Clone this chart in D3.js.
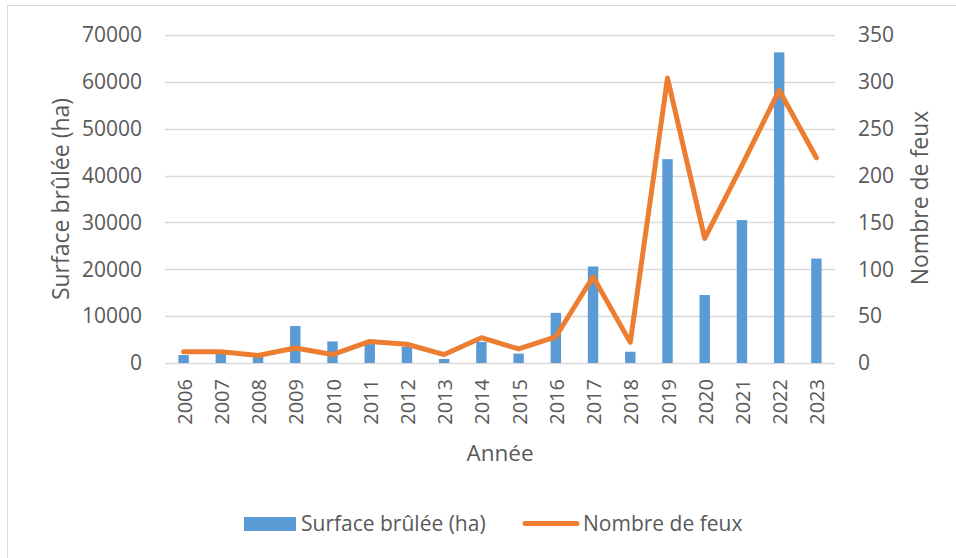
<!DOCTYPE html>
<html>
<head>
<meta charset="utf-8">
<script src="https://cdn.jsdelivr.net/npm/d3@7"></script>
<style>
  body { margin: 0; background: #fff; }
  svg text { font-family: "Open Sans", sans-serif; fill: #595959; }
</style>
</head>
<body>
<svg id="chart" width="956" height="558"></svg>
<script>
// data
const years = ["2006","2007","2008","2009","2010","2011","2012","2013","2014",
               "2015","2016","2017","2018","2019","2020","2021","2022","2023"];
const surface = [1700, 2300, 1500, 7900, 4600, 4200, 3500, 850, 4500,
                 2000, 10700, 20600, 2400, 43500, 14500, 30500, 66300, 22300];
const fires = [12, 12, 8, 16, 9, 23, 20, 9, 27, 15, 28, 92, 22, 304, 133, 211, 291, 219];
const leftTicks = [0, 10000, 20000, 30000, 40000, 50000, 60000, 70000];
const rightTicks = [0, 50, 100, 150, 200, 250, 300, 350];

const blue = "#5B9BD5", orange = "#ED7D31", grid = "#D9D9D9";
const plotL = 165, plotR = 835, plotT = 35, plotB = 363;

const svg = d3.select("#chart");

// outer frame (runs past the right/bottom edge like the screenshot)
svg.append("rect")
  .attr("x", 7.5).attr("y", 5.5)
  .attr("width", 980).attr("height", 600)
  .attr("fill", "none").attr("stroke", grid);

const x = d3.scaleBand().domain(years).range([plotL, plotR]).padding(0);
const yL = d3.scaleLinear().domain([0, 70000]).range([plotB, plotT]);
const yR = d3.scaleLinear().domain([0, 350]).range([plotB, plotT]);

// gridlines
svg.append("g").selectAll("line").data(leftTicks).join("line")
  .attr("x1", plotL).attr("x2", plotR)
  .attr("y1", d => Math.round(yL(d)) + 0.5).attr("y2", d => Math.round(yL(d)) + 0.5)
  .attr("stroke", grid).attr("stroke-width", 1.3);

// left axis labels
const axL = svg.append("g").attr("transform", `translate(${plotL - 23},0)`)
  .call(d3.axisLeft(yL).tickValues(leftTicks).tickSize(0).tickPadding(0).tickFormat(d3.format("d")));
axL.select(".domain").remove();
axL.selectAll("text").attr("font-size", 21).attr("font-family", null).attr("fill", null);

// right axis labels
const axR = svg.append("g").attr("transform", `translate(${plotR + 23},0)`)
  .call(d3.axisRight(yR).tickValues(rightTicks).tickSize(0).tickPadding(0));
axR.select(".domain").remove();
axR.selectAll("text").attr("font-size", 21).attr("font-family", null).attr("fill", null);

// bars
const bw = x.bandwidth() * 0.28;
svg.append("g").selectAll("rect").data(surface).join("rect")
  .attr("x", (d, i) => x(years[i]) + x.bandwidth() / 2 - bw / 2)
  .attr("width", bw)
  .attr("y", d => yL(d))
  .attr("height", d => plotB - yL(d))
  .attr("fill", blue);

// line
const line = d3.line()
  .x((d, i) => x(years[i]) + x.bandwidth() / 2)
  .y(d => yR(d));
svg.append("path").datum(fires)
  .attr("d", line)
  .attr("fill", "none").attr("stroke", orange)
  .attr("stroke-width", 5).attr("stroke-linejoin", "round").attr("stroke-linecap", "round");

// x axis labels, rotated
const axB = svg.append("g").attr("transform", `translate(0,${plotB})`)
  .call(d3.axisBottom(x).tickSize(0).tickPadding(0));
axB.select(".domain").remove();
axB.selectAll("text")
  .attr("font-size", 20).attr("font-family", null).attr("fill", null)
  .attr("text-anchor", "end")
  .attr("transform", "translate(1,16) rotate(-90)")
  .attr("x", 0).attr("y", 0).attr("dy", "0.35em");

// axis titles
svg.append("text").attr("font-size", 23).attr("text-anchor", "middle")
  .attr("transform", "translate(69,199) rotate(-90)")
  .text("Surface brûlée (ha)");
svg.append("text").attr("font-size", 23).attr("text-anchor", "middle")
  .attr("transform", "translate(928,198) rotate(-90)")
  .text("Nombre de feux");
svg.append("text").attr("font-size", 22.5).attr("text-anchor", "middle")
  .attr("x", (plotL + plotR) / 2).attr("y", 461)
  .text("Année");

// legend
const lg = svg.append("g");
lg.append("rect").attr("x", 244).attr("y", 517).attr("width", 52).attr("height", 14).attr("fill", blue);
lg.append("text").attr("x", 301).attr("y", 531).attr("font-size", 21).text("Surface brûlée (ha)");
lg.append("line").attr("x1", 525).attr("x2", 577).attr("y1", 523.5).attr("y2", 523.5)
  .attr("stroke", orange).attr("stroke-width", 5).attr("stroke-linecap", "round");
lg.append("text").attr("x", 583).attr("y", 531).attr("font-size", 21).text("Nombre de feux");
</script>
</body>
</html>
